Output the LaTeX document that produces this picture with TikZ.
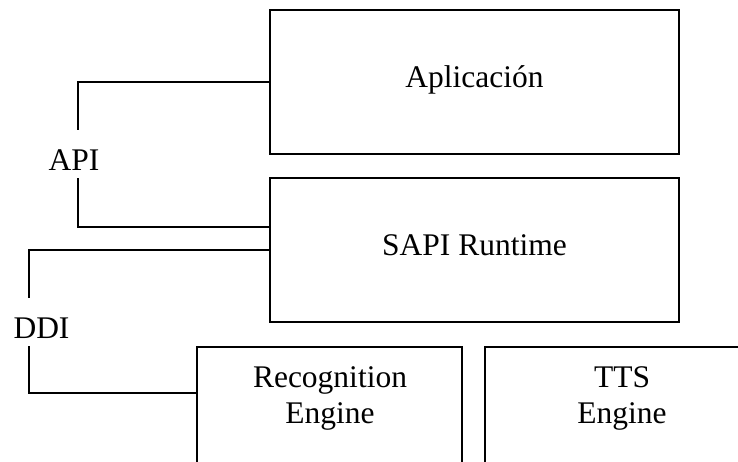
\documentclass[tikz,border=0pt]{standalone}
\usepackage{fontspec}
\setmainfont{Liberation Serif}
\begin{document}
\begin{tikzpicture}[x=1pt,y=-1pt,
  box/.style={draw=black, line width=1.8pt, rectangle, inner sep=0pt, outer sep=0pt, anchor=north west},
  lbl/.style={font=\fontsize{31.5}{36}\selectfont, inner sep=0pt, anchor=base},
  wire/.style={draw=black, line width=1.8pt}]
\useasboundingbox (0,0) rectangle (738,461);
\fill[white] (0,0) rectangle (738,461);
\begin{scope}
\clip (0,0) rectangle (738,461);
% layer boxes
\node[box, minimum width=409pt, minimum height=144pt] (app)  at (270,10)  {};
\node[box, minimum width=409pt, minimum height=144pt] (sapi) at (270,178) {};
\node[box, minimum width=265pt, minimum height=200pt] (rec)  at (197,347) {};
\node[box, minimum width=274pt, minimum height=200pt] (tts)  at (485,347) {};
\end{scope}
% box captions
\node[lbl] (appText)  at (474.5,87)  {Aplicación};
\node[lbl] (sapiText) at (474.5,255) {SAPI Runtime};
\node[lbl] (recText1) at (330,387) {Recognition};
\node[lbl] (recText2) at (330,423) {Engine};
\node[lbl] (ttsText1) at (622,387) {TTS};
\node[lbl] (ttsText2) at (622,423) {Engine};
% interface labels
\node[lbl] (api) at (74,170)   {API};
\node[lbl] (ddi) at (41.5,338) {DDI};
% connector ends around the labels
\coordinate (apiUp)  at (78,130);
\coordinate (apiDn)  at (78,178);
\coordinate (ddiUp)  at (29,298);
\coordinate (ddiDn)  at (29,346);
% API between application and runtime
\draw[wire] (app.west) -| (apiUp);
\draw[wire] (apiDn) |- (sapi.west |- 0,227);
% DDI between runtime and engines
\draw[wire] (sapi.west) -| (ddiUp);
\draw[wire] (ddiDn) |- (rec.west |- 0,393);
\end{tikzpicture}
\end{document}
